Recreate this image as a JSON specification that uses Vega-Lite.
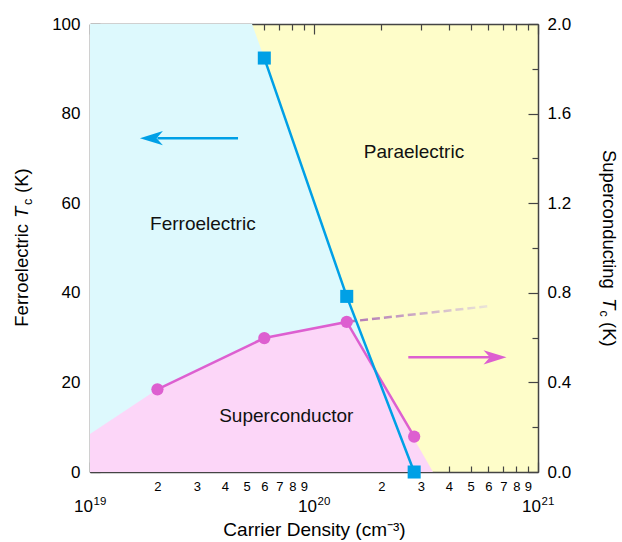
{
  "$schema": "https://vega.github.io/schema/vega-lite/v6.json",
  "width": 448,
  "height": 448,
  "autosize": {"type": "none"},
  "padding": {"left": 90, "top": 24, "right": 84, "bottom": 70},
  "background": "white",
  "config": {
    "view": {"fill": "#fefdc9", "stroke": null},
    "font": "Liberation Sans",
    "axis": {
      "domainColor": "#444", "domainWidth": 1.5, "tickColor": "#444", "tickWidth": 1.2,
      "labelColor": "black", "labelFont": "Liberation Sans", "labelFontSize": 17,
      "titleFont": "Liberation Sans", "titleFontWeight": "normal", "titleFontSize": 19, "titleColor": "black",
      "grid": false, "labelOverlap": false, "labelFlush": false
    }
  },
  "datasets": {
    "ferro": [
      {"n": 1e19, "t": 100}, {"n": 5.29e19, "t": 100}, {"n": 6e19, "t": 92.4}, {"n": 1.4e20, "t": 39.2}, {"n": 2.8e20, "t": 0}
    ],
    "scregion": [
      {"n": 1e19, "tc": 0.17}, {"n": 2e19, "tc": 0.369}, {"n": 6e19, "tc": 0.598}, {"n": 1.4e20, "tc": 0.67}, {"n": 3.4e20, "tc": 0}
    ],
    "ferroTc": [
      {"n": 6e19, "t": 92.4}, {"n": 1.4e20, "t": 39.2}, {"n": 2.8e20, "t": 0}
    ],
    "scTc": [
      {"n": 2e19, "tc": 0.369}, {"n": 6e19, "tc": 0.598}, {"n": 1.4e20, "tc": 0.67}, {"n": 2.8e20, "tc": 0.158}
    ],
    "scExtrap": [
      {"n": 1.42e20, "tc": 0.671}, {"n": 6.1e20, "tc": 0.741}
    ],
    "regions": [
      {"label": "Ferroelectric", "n": 3.19e19, "t": 55.4},
      {"label": "Paraelectric", "n": 2.795e20, "t": 71.5},
      {"label": "Superconductor", "n": 7.52e19, "t": 12.5}
    ],
    "decades": [
      {"n": 1e19, "e": "19"}, {"n": 1e20, "e": "20"}, {"n": 1e21, "e": "21"}
    ]
  },
  "resolve": {"scale": {"y": "independent"}, "axis": {"x": "independent", "y": "independent"}},
  "layer": [
    {
      "data": {"name": "ferro"},
      "mark": {"type": "area", "orient": "vertical", "color": "#ddf9fd", "opacity": 1},
      "encoding": {
        "x": {"field": "n", "type": "quantitative", "scale": {"type": "log", "domain": [1e19, 1e21], "nice": false},
          "axis": {
            "orient": "bottom",
            "values": [1e19, 2e19, 3e19, 4e19, 5e19, 6e19, 7e19, 8e19, 9e19, 1e20, 2e20, 3e20, 4e20, 5e20, 6e20, 7e20, 8e20, 9e20, 1e21],
            "title": "Carrier Density (cm⁻³)",
            "titlePadding": 27,
            "labelBaseline": "top",
            "labelExpr": "abs(log(datum.value)/LN10 - round(log(datum.value)/LN10)) < 0.01 ? '' : '' + round(datum.value / pow(10, floor(log(datum.value)/LN10 + 0.001)))",
            "labelFontSize": 13,
            "labelPadding": {"condition": {"test": "abs(log(datum.value)/LN10 - round(log(datum.value)/LN10)) < 0.01", "value": 18}, "value": 14},
            "tickSize": {"condition": {"test": "abs(log(datum.value)/LN10 - round(log(datum.value)/LN10)) < 0.01", "value": -10}, "value": -6}
          }
        },
        "y": {"field": "t", "type": "quantitative", "scale": {"domain": [0, 100], "nice": false},
          "axis": {
            "orient": "left",
            "values": [0, 10, 20, 30, 40, 50, 60, 70, 80, 90, 100],
            "title": null,
            "labelExpr": "datum.value % 20 == 0 ? datum.label : ''",
            "labelPadding": {"condition": {"test": "datum.value % 20 == 0", "value": 20}, "value": 16},
            "tickSize": {"condition": {"test": "datum.value % 20 == 0", "value": -10}, "value": -6}
          }
        }
      }
    },
    {
      "data": {"name": "scregion"},
      "mark": {"type": "area", "orient": "vertical", "color": "#fcd6f8", "opacity": 1},
      "encoding": {
        "x": {"field": "n", "type": "quantitative", "scale": {"type": "log", "domain": [1e19, 1e21], "nice": false},
          "axis": {
            "orient": "top",
            "values": [1e19, 2e19, 3e19, 4e19, 5e19, 6e19, 7e19, 8e19, 9e19, 1e20, 2e20, 3e20, 4e20, 5e20, 6e20, 7e20, 8e20, 9e20, 1e21],
            "title": null,
            "labels": false,
            "tickSize": {"condition": {"test": "abs(log(datum.value)/LN10 - round(log(datum.value)/LN10)) < 0.01", "value": -10}, "value": -6}
          }
        },
        "y": {"field": "tc", "type": "quantitative", "scale": {"domain": [0, 2], "nice": false}, "axis": null}
      }
    },
    {
      "data": {"name": "scTc"},
      "mark": {"type": "line", "color": "#dd5fd0", "strokeWidth": 2.5},
      "encoding": {
        "x": {"field": "n", "type": "quantitative", "scale": {"type": "log", "domain": [1e19, 1e21], "nice": false}, "axis": null},
        "y": {"field": "tc", "type": "quantitative", "scale": {"domain": [0, 2], "nice": false},
          "axis": {
            "orient": "right",
            "values": [0, 0.2, 0.4, 0.6, 0.8, 1, 1.2, 1.4, 1.6, 1.8, 2],
            "format": ".1f",
            "title": null,
            "labelExpr": "round(datum.value*10) % 4 == 0 ? datum.label : ''",
            "labelPadding": {"condition": {"test": "round(datum.value*10) % 4 == 0", "value": 19}, "value": 15},
            "tickSize": {"condition": {"test": "round(datum.value*10) % 4 == 0", "value": -10}, "value": -6}
          }
        }
      }
    },
    {
      "data": {"name": "scExtrap"},
      "mark": {"type": "line", "strokeWidth": 2.5, "strokeDash": [8, 4],
        "color": {"gradient": "linear", "x1": 0, "x2": 1, "y1": 0, "y2": 0,
          "stops": [{"offset": 0, "color": "#b074b4"}, {"offset": 1, "color": "#ebe6d8"}]}},
      "encoding": {
        "x": {"field": "n", "type": "quantitative", "scale": {"type": "log", "domain": [1e19, 1e21], "nice": false}, "axis": null},
        "y": {"field": "tc", "type": "quantitative", "scale": {"domain": [0, 2], "nice": false}, "axis": null}
      }
    },
    {
      "data": {"name": "scTc"},
      "mark": {"type": "point", "shape": "circle", "filled": true, "opacity": 1, "size": 150, "color": "#dd5fd0"},
      "encoding": {
        "x": {"field": "n", "type": "quantitative", "scale": {"type": "log", "domain": [1e19, 1e21], "nice": false}, "axis": null},
        "y": {"field": "tc", "type": "quantitative", "scale": {"domain": [0, 2], "nice": false}, "axis": null}
      }
    },
    {
      "data": {"name": "ferroTc"},
      "mark": {"type": "line", "color": "#00a0e6", "strokeWidth": 2.5},
      "encoding": {
        "x": {"field": "n", "type": "quantitative", "scale": {"type": "log", "domain": [1e19, 1e21], "nice": false}, "axis": null},
        "y": {"field": "t", "type": "quantitative", "scale": {"domain": [0, 100], "nice": false}, "axis": null}
      }
    },
    {
      "data": {"name": "ferroTc"},
      "mark": {"type": "point", "shape": "square", "filled": true, "opacity": 1, "size": 170, "color": "#00a0e6"},
      "encoding": {
        "x": {"field": "n", "type": "quantitative", "scale": {"type": "log", "domain": [1e19, 1e21], "nice": false}, "axis": null},
        "y": {"field": "t", "type": "quantitative", "scale": {"domain": [0, 100], "nice": false}, "axis": null}
      }
    },
    {
      "data": {"values": [{"n": 2.0e19, "n2": 4.58e19, "t": 74.5}]},
      "mark": {"type": "rule", "color": "#00a0e6", "strokeWidth": 2.5},
      "encoding": {
        "x": {"field": "n", "type": "quantitative", "scale": {"type": "log", "domain": [1e19, 1e21], "nice": false}, "axis": null},
        "x2": {"field": "n2"},
        "y": {"field": "t", "type": "quantitative", "scale": {"domain": [0, 100], "nice": false}, "axis": null}
      }
    },
    {
      "data": {"values": [{"n": 1.88e19, "t": 74.5}]},
      "mark": {"type": "point", "shape": "M -1 0 L 1 -0.62 L 0.45 0 L 1 0.62 Z", "filled": true, "opacity": 1, "size": 529, "color": "#00a0e6"},
      "encoding": {
        "x": {"field": "n", "type": "quantitative", "scale": {"type": "log", "domain": [1e19, 1e21], "nice": false}, "axis": null},
        "y": {"field": "t", "type": "quantitative", "scale": {"domain": [0, 100], "nice": false}, "axis": null}
      }
    },
    {
      "data": {"values": [{"n": 2.636e20, "n2": 6.2e20, "tc": 0.512}]},
      "mark": {"type": "rule", "color": "#dd5fd0", "strokeWidth": 2.5},
      "encoding": {
        "x": {"field": "n", "type": "quantitative", "scale": {"type": "log", "domain": [1e19, 1e21], "nice": false}, "axis": null},
        "x2": {"field": "n2"},
        "y": {"field": "tc", "type": "quantitative", "scale": {"domain": [0, 2], "nice": false}, "axis": null}
      }
    },
    {
      "data": {"values": [{"n": 6.43e20, "tc": 0.512}]},
      "mark": {"type": "point", "shape": "M 1 0 L -1 -0.62 L -0.45 0 L -1 0.62 Z", "filled": true, "opacity": 1, "size": 529, "color": "#dd5fd0"},
      "encoding": {
        "x": {"field": "n", "type": "quantitative", "scale": {"type": "log", "domain": [1e19, 1e21], "nice": false}, "axis": null},
        "y": {"field": "tc", "type": "quantitative", "scale": {"domain": [0, 2], "nice": false}, "axis": null}
      }
    },
    {
      "data": {"name": "regions"},
      "mark": {"type": "text", "fontSize": 19, "font": "Liberation Sans", "align": "center", "baseline": "middle", "color": "#111"},
      "encoding": {
        "x": {"field": "n", "type": "quantitative", "scale": {"type": "log", "domain": [1e19, 1e21], "nice": false}, "axis": null},
        "y": {"field": "t", "type": "quantitative", "scale": {"domain": [0, 100], "nice": false}, "axis": null},
        "text": {"field": "label"}
      }
    },
    {
      "data": {"name": "decades"},
      "mark": {"type": "text", "fontSize": 17, "font": "Liberation Sans", "align": "right", "baseline": "alphabetic", "dx": 3, "color": "black"},
      "encoding": {
        "x": {"field": "n", "type": "quantitative", "scale": {"type": "log", "domain": [1e19, 1e21], "nice": false}, "axis": null},
        "y": {"datum": -8.93, "type": "quantitative", "scale": {"domain": [0, 100], "nice": false}, "axis": null},
        "text": {"value": "10"}
      }
    },
    {
      "data": {"name": "decades"},
      "mark": {"type": "text", "fontSize": 11.5, "font": "Liberation Sans", "align": "left", "baseline": "alphabetic", "dx": 3.5, "dy": -7, "color": "black"},
      "encoding": {
        "x": {"field": "n", "type": "quantitative", "scale": {"type": "log", "domain": [1e19, 1e21], "nice": false}, "axis": null},
        "y": {"datum": -8.93, "type": "quantitative", "scale": {"domain": [0, 100], "nice": false}, "axis": null},
        "text": {"field": "e"}
      }
    },
    {
      "data": {"values": [{"s": "Ferroelectric", "n": 5.287e18, "t": 32.43}, {"s": "(K)", "n": 5.287e18, "t": 62.28}]},
      "mark": {"type": "text", "fontSize": 18.5, "font": "Liberation Sans", "angle": 270, "align": "left", "baseline": "alphabetic", "color": "black"},
      "encoding": {
        "x": {"field": "n", "type": "quantitative", "scale": {"type": "log", "domain": [1e19, 1e21], "nice": false}, "axis": null},
        "y": {"field": "t", "type": "quantitative", "scale": {"domain": [0, 100], "nice": false}, "axis": null},
        "text": {"field": "s"}
      }
    },
    {
      "data": {"values": [{"s": "T", "n": 5.287e18, "t": 56.7}]},
      "mark": {"type": "text", "fontSize": 18.5, "font": "Liberation Sans", "fontStyle": "italic", "angle": 270, "align": "left", "baseline": "alphabetic", "color": "black"},
      "encoding": {
        "x": {"field": "n", "type": "quantitative", "scale": {"type": "log", "domain": [1e19, 1e21], "nice": false}, "axis": null},
        "y": {"field": "t", "type": "quantitative", "scale": {"domain": [0, 100], "nice": false}, "axis": null},
        "text": {"field": "s"}
      }
    },
    {
      "data": {"values": [{"s": "c", "n": 5.287e18, "t": 59.6}]},
      "mark": {"type": "text", "fontSize": 12.5, "font": "Liberation Sans", "angle": 270, "align": "left", "baseline": "alphabetic", "dy": 3.7, "color": "black"},
      "encoding": {
        "x": {"field": "n", "type": "quantitative", "scale": {"type": "log", "domain": [1e19, 1e21], "nice": false}, "axis": null},
        "y": {"field": "t", "type": "quantitative", "scale": {"domain": [0, 100], "nice": false}, "axis": null},
        "text": {"field": "s"}
      }
    },
    {
      "data": {"values": [{"s": "Superconducting", "n": 1.951e21, "t": 71.88}, {"s": "(K)", "n": 1.951e21, "t": 33.48}]},
      "mark": {"type": "text", "fontSize": 18.5, "font": "Liberation Sans", "angle": 90, "align": "left", "baseline": "alphabetic", "color": "black"},
      "encoding": {
        "x": {"field": "n", "type": "quantitative", "scale": {"type": "log", "domain": [1e19, 1e21], "nice": false}, "axis": null},
        "y": {"field": "t", "type": "quantitative", "scale": {"domain": [0, 100], "nice": false}, "axis": null},
        "text": {"field": "s"}
      }
    },
    {
      "data": {"values": [{"s": "T", "n": 1.951e21, "t": 38.84}]},
      "mark": {"type": "text", "fontSize": 18.5, "font": "Liberation Sans", "fontStyle": "italic", "angle": 90, "align": "left", "baseline": "alphabetic", "color": "black"},
      "encoding": {
        "x": {"field": "n", "type": "quantitative", "scale": {"type": "log", "domain": [1e19, 1e21], "nice": false}, "axis": null},
        "y": {"field": "t", "type": "quantitative", "scale": {"domain": [0, 100], "nice": false}, "axis": null},
        "text": {"field": "s"}
      }
    },
    {
      "data": {"values": [{"s": "c", "n": 1.951e21, "t": 36.05}]},
      "mark": {"type": "text", "fontSize": 12.5, "font": "Liberation Sans", "angle": 90, "align": "left", "baseline": "alphabetic", "dy": 3.5, "color": "black"},
      "encoding": {
        "x": {"field": "n", "type": "quantitative", "scale": {"type": "log", "domain": [1e19, 1e21], "nice": false}, "axis": null},
        "y": {"field": "t", "type": "quantitative", "scale": {"domain": [0, 100], "nice": false}, "axis": null},
        "text": {"field": "s"}
      }
    }
  ]
}
